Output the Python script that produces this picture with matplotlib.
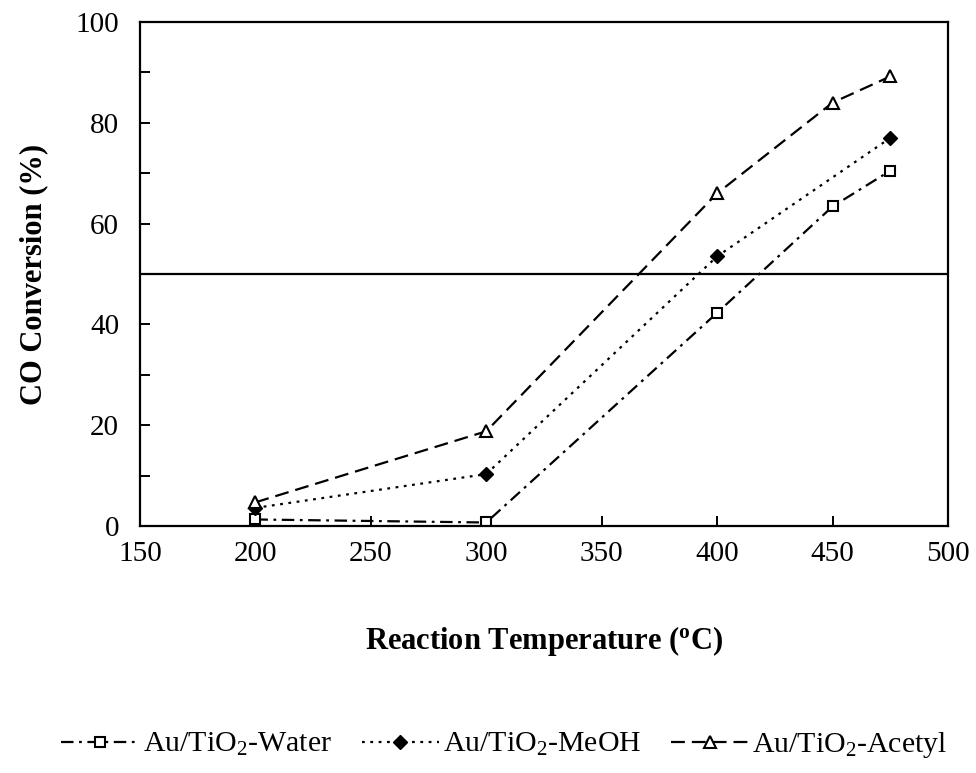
import matplotlib
matplotlib.use("Agg")
import matplotlib.pyplot as plt
from matplotlib.ticker import MultipleLocator

plt.rcParams['font.family'] = ['Liberation Serif', 'DejaVu Serif']
plt.rcParams['mathtext.fontset'] = 'custom'
plt.rcParams['mathtext.rm'] = 'Liberation Serif'
plt.rcParams['mathtext.it'] = 'Liberation Serif:italic'
plt.rcParams['mathtext.bf'] = 'Liberation Serif:bold'
plt.rcParams['lines.scale_dashes'] = False

# Data
temp_water = [200, 300, 400, 450, 475]
conv_water = [1.3, 0.7, 42.3, 63.4, 70.5]
temp_meoh = [200, 300, 400, 475]
conv_meoh = [3.6, 10.3, 53.5, 77.0]
temp_acetyl = [200, 300, 400, 450, 475]
conv_acetyl = [4.7, 18.8, 66.0, 84.0, 89.2]
reference_level = 50
labels = ["Au/TiO$_\\mathrm{2}$-Water", "Au/TiO$_\\mathrm{2}$-MeOH", "Au/TiO$_\\mathrm{2}$-Acetyl"]

fig = plt.figure(figsize=(9.76, 7.73), dpi=100)
ax = fig.add_axes([0.1434, 0.3195, 0.8279, 0.652])

ax.plot(temp_water, conv_water, color='black', lw=1.6, linestyle=(0, (9, 4, 2, 4)),
        marker='s', markersize=7.5, markerfacecolor='white', markeredgecolor='black',
        markeredgewidth=1.5, label=labels[0])
ax.plot(temp_meoh, conv_meoh, color='black', lw=1.6, linestyle=(0, (2, 4)),
        marker='D', markersize=7, markerfacecolor='black', markeredgecolor='black',
        label=labels[1])
ax.plot(temp_acetyl, conv_acetyl, color='black', lw=1.6, linestyle=(0, (10, 5)),
        marker='^', markersize=9, markerfacecolor='white', markeredgecolor='black',
        markeredgewidth=1.5, label=labels[2])

ax.axhline(reference_level, color='black', lw=1.6)

ax.set_xlim(150, 500)
ax.set_ylim(0, 100)
ax.xaxis.set_major_locator(MultipleLocator(50))
ax.yaxis.set_major_locator(MultipleLocator(20))
ax.yaxis.set_minor_locator(MultipleLocator(10))
ax.tick_params(axis='both', which='both', direction='in', width=1.4, labelsize=21)
ax.tick_params(axis='both', which='major', length=7)
ax.tick_params(axis='y', which='minor', length=7)
ax.tick_params(axis='y', pad=15)
ax.tick_params(axis='x', pad=11)
for s in ax.spines.values():
    s.set_linewidth(1.6)
    s.set_color('black')

ax.set_xlabel("Reaction Temperature ($^{\\mathbf{o}}$C)", fontsize=22, fontweight='bold', labelpad=41)
ax.set_ylabel("CO Conversion (%)", fontsize=22, fontweight='bold', labelpad=20)

fig.legend(loc='center left', bbox_to_anchor=(0.063, 0.036), ncol=3, frameon=False,
           fontsize=21.5, handlelength=2.6, handletextpad=0.12, columnspacing=1.0,
           borderaxespad=0, borderpad=0)

fig.savefig("out.png", dpi=100)
